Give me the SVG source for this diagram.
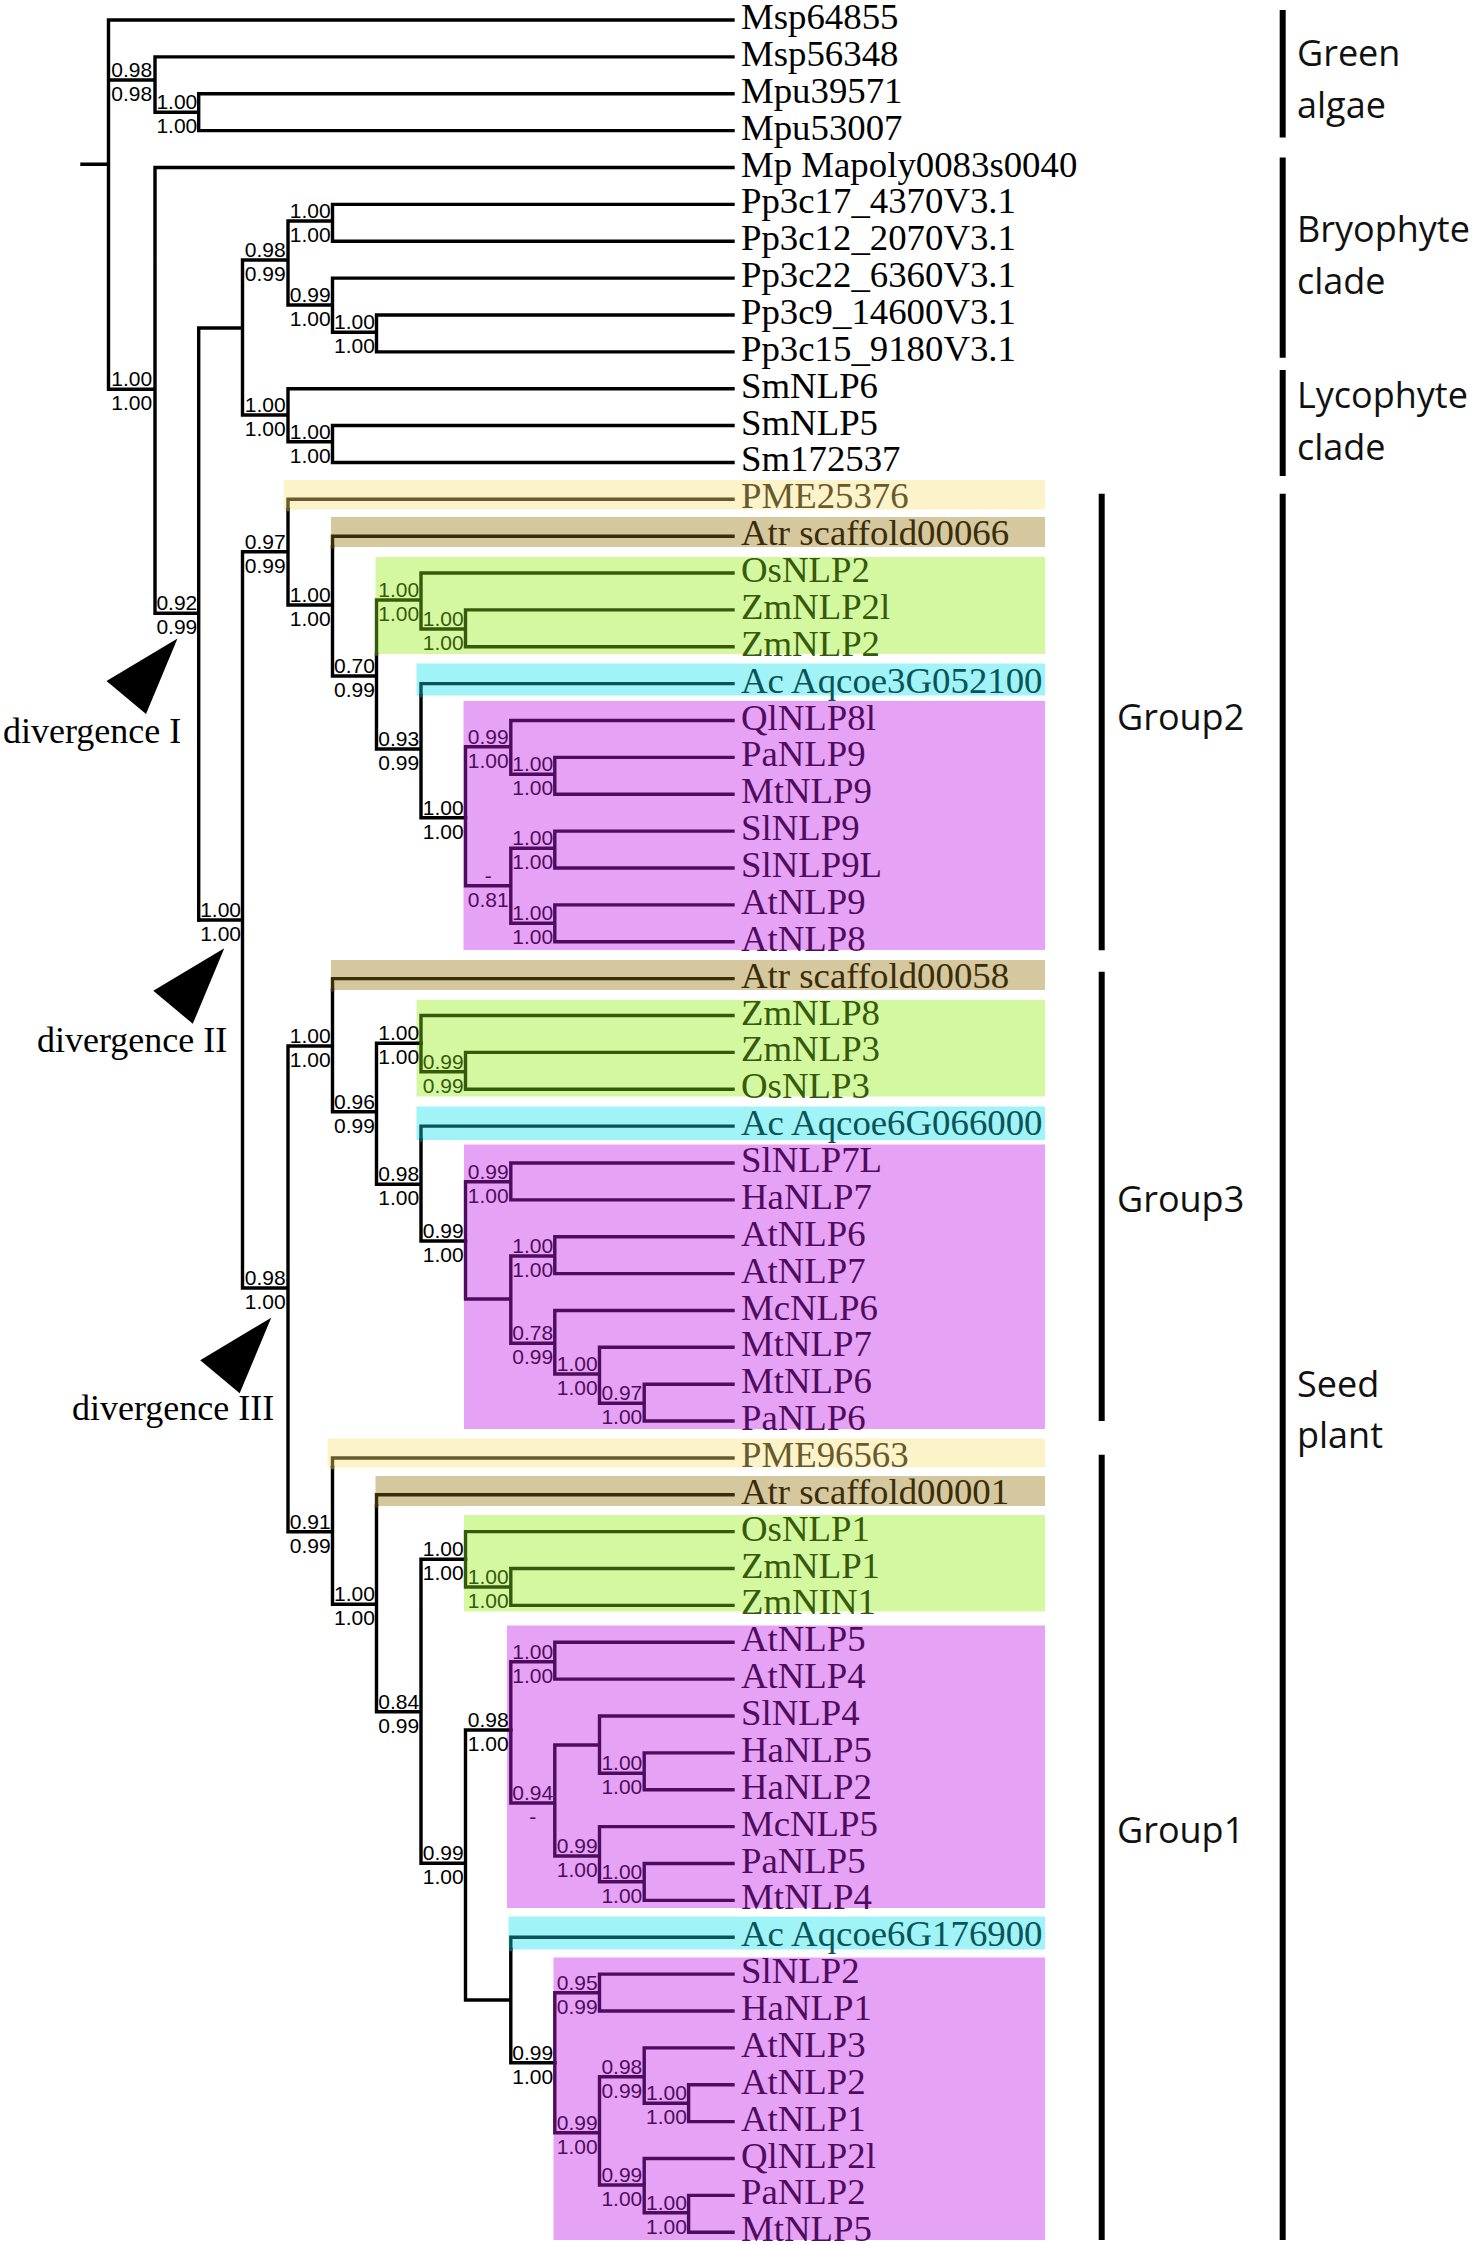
<svg xmlns="http://www.w3.org/2000/svg" width="1479" height="2245" viewBox="0 0 1479 2245">
<style>
.lf{font-family:"Liberation Serif","Times New Roman",serif;font-size:36.8px;fill:#000}
.dv{font-family:"Liberation Serif","Times New Roman",serif;font-size:36px;fill:#000}
.sp{font-family:"Liberation Sans",Arial,sans-serif;font-size:21px;text-anchor:middle;fill:#000}
.cl{font-family:"Open Sans","Liberation Sans",sans-serif;font-size:36px;fill:#111}
.f-pme{fill:#665A2E}.f-atr{fill:#3A2D08}.f-mono{fill:#375A0A}.f-ac{fill:#0A5458}.f-eud{fill:#4F0C5E}
.br{fill:none;stroke:#000;stroke-width:3.4;stroke-linecap:square}
.s-pme{stroke:#665A2E}.s-atr{stroke:#3A2D08}.s-mono{stroke:#375A0A}.s-ac{stroke:#0A5458}.s-eud{stroke:#4F0C5E}
.b-pme{fill:#FDF3C8}.b-atr{fill:#D5C79E}.b-mono{fill:#D4F8A0}.b-ac{fill:#A0F3F7}.b-eud{fill:#E6A2F5}
.bar{stroke:#000;stroke-width:6;fill:none}
.tri{fill:#000}
</style>
<rect width="1479" height="2245" fill="#fff"/>
<g id="highlights">
<rect class="b-pme" x="284" y="480" width="761" height="29.5"/>
<rect class="b-atr" x="331" y="517" width="714" height="30"/>
<rect class="b-mono" x="375.5" y="557" width="669.5" height="97"/>
<rect class="b-ac" x="416.5" y="663.5" width="628.5" height="32"/>
<rect class="b-eud" x="463.5" y="701" width="581.5" height="249"/>
<rect class="b-atr" x="331" y="960" width="714" height="30"/>
<rect class="b-mono" x="416.5" y="1000" width="628.5" height="96.5"/>
<rect class="b-ac" x="416.5" y="1106.5" width="628.5" height="33.5"/>
<rect class="b-eud" x="464" y="1144.5" width="581" height="284.5"/>
<rect class="b-pme" x="327.5" y="1438.5" width="717.5" height="29"/>
<rect class="b-atr" x="375.5" y="1476" width="669.5" height="30"/>
<rect class="b-mono" x="464" y="1515" width="581" height="96.5"/>
<rect class="b-eud" x="507" y="1625.5" width="538" height="282.5"/>
<rect class="b-ac" x="508.5" y="1916.5" width="536.5" height="33"/>
<rect class="b-eud" x="553.5" y="1957.5" width="491.5" height="282.5"/>
</g>
<g id="connectors" class="br">
<path d="M82,164.3H108.5M108.5,20V389.3M108.5,20H733M108.5,80H155M155,56.87V112.2M155,56.87H733M155,112.2H198.7M198.7,93.74V130.61M198.7,93.74H733M198.7,130.61H733M108.5,389.3H155M155,167.48V613.3M155,167.48H733M155,613.3H198.7M198.7,328V920M198.7,328H242.5M242.5,260V415M242.5,260H288M288,221V305M288,221H332.5M332.5,204.35V241.22M332.5,204.35H733M332.5,241.22H733M288,305H332.5M332.5,278.09V332.3M332.5,278.09H733M332.5,332.3H376.5M376.5,314.96V351.83M376.5,314.96H733M376.5,351.83H733M242.5,415H288M288,388.7V441.7M288,388.7H733M288,441.7H332.5M332.5,425.57V462.44M332.5,425.57H733M332.5,462.44H733"/>
<path d="M198.7,920H242.5M242.5,551.7V1288M242.5,551.7H288M288,509.5V605M288,605H332.5M332.5,547V676M332.5,676H376.5M376.5,654V749M376.5,749H421M421,695.5V817.7M421,817.7H465.5M242.5,1288H288M288,1046V1531.7M288,1046H332.5M332.5,990V1111.7M332.5,1111.7H376.5M376.5,1043.3V1184.3M376.5,1043.3H421M376.5,1184.3H421M421,1140V1241M421,1241H465.5M288,1531.7H332.5M332.5,1467.5V1604.3M332.5,1604.3H376.5M376.5,1506V1711.7M376.5,1711.7H421M421,1559.3V1863.3M421,1559.3H465.5M421,1863.3H465.5M465.5,1730V2000M465.5,1730H510.8M465.5,2000H510.8M510.8,1949.5V2062.7M510.8,2062.7H554.8"/>
<path class="s-pme" d="M288,499.31V509.5M288,499.31H733M332.5,1457.93V1467.5M332.5,1457.93H733"/>
<path class="s-atr" d="M332.5,536.18V547M332.5,536.18H733M332.5,978.62V990M332.5,978.62H733M376.5,1494.8V1506M376.5,1494.8H733"/>
<path class="s-mono" d="M376.5,600V654M376.5,600H421M421,573.05V629M421,573.05H733M421,629H465.5M465.5,609.92V646.79M465.5,609.92H733M465.5,646.79H733M421,1015.49V1071.7M421,1015.49H733M421,1071.7H465.5M465.5,1052.36V1089.23M465.5,1052.36H733M465.5,1089.23H733M465.5,1531.67V1587M465.5,1531.67H733M465.5,1587H510.8M510.8,1568.54V1605.41M510.8,1568.54H733M510.8,1605.41H733"/>
<path class="s-ac" d="M421,683.66V695.5M421,683.66H733M421,1126.1V1140M421,1126.1H733M510.8,1937.24V1949.5M510.8,1937.24H733"/>
<path class="s-eud" d="M465.5,746.7V885.7M465.5,746.7H510.8M510.8,720.53V774.3M510.8,720.53H733M510.8,774.3H554.8M554.8,757.4V794.27M554.8,757.4H733M554.8,794.27H733M465.5,885.7H510.8M510.8,848.3V923.3M510.8,848.3H554.8M554.8,831.14V868.01M554.8,831.14H733M554.8,868.01H733M510.8,923.3H554.8M554.8,904.88V941.75M554.8,904.88H733M554.8,941.75H733"/>
<path class="s-eud" d="M465.5,1181.7V1299M465.5,1181.7H510.8M510.8,1162.97V1199.84M510.8,1162.97H733M510.8,1199.84H733M465.5,1299H510.8M510.8,1256V1343.3M510.8,1256H554.8M554.8,1236.71V1273.58M554.8,1236.71H733M554.8,1273.58H733M510.8,1343.3H554.8M554.8,1310.45V1374M554.8,1310.45H733M554.8,1374H599.5M599.5,1347.32V1403.3M599.5,1347.32H733M599.5,1403.3H644.2M644.2,1384.19V1421.06M644.2,1384.19H733M644.2,1421.06H733"/>
<path class="s-eud" d="M510.8,1661.7V1803M510.8,1661.7H554.8M554.8,1642.28V1679.15M554.8,1642.28H733M554.8,1679.15H733M510.8,1803H554.8M554.8,1745V1856M554.8,1745H599.5M599.5,1716.02V1773.3M599.5,1716.02H733M599.5,1773.3H644.2M644.2,1752.89V1789.76M644.2,1752.89H733M644.2,1789.76H733M554.8,1856H599.5M599.5,1826.63V1881.7M599.5,1826.63H733M599.5,1881.7H644.2M644.2,1863.5V1900.37M644.2,1863.5H733M644.2,1900.37H733"/>
<path class="s-eud" d="M554.8,1992.7V2132.7M554.8,1992.7H599.5M599.5,1974.11V2010.98M599.5,1974.11H733M599.5,2010.98H733M554.8,2132.7H599.5M599.5,2076.7V2185M599.5,2076.7H644.2M644.2,2047.85V2103.3M644.2,2047.85H733M644.2,2103.3H688.6M688.6,2084.72V2121.59M688.6,2084.72H733M688.6,2121.59H733M599.5,2185H644.2M644.2,2158.46V2212.7M644.2,2158.46H733M644.2,2212.7H688.6M688.6,2195.33V2232.2M688.6,2195.33H733M688.6,2232.2H733"/>
</g>
<g id="leaves">
<g id="leaf-Msp64855"><text class="lf" x="741" y="29">Msp64855</text></g>
<g id="leaf-Msp56348"><text class="lf" x="741" y="65.9">Msp56348</text></g>
<g id="leaf-Mpu39571"><text class="lf" x="741" y="102.7">Mpu39571</text></g>
<g id="leaf-Mpu53007"><text class="lf" x="741" y="139.6">Mpu53007</text></g>
<g id="leaf-Mapoly"><text class="lf" x="741" y="176.5">Mp Mapoly0083s0040</text></g>
<g id="leaf-Pp3c17"><text class="lf" x="741" y="213.4">Pp3c17_4370V3.1</text></g>
<g id="leaf-Pp3c12"><text class="lf" x="741" y="250.2">Pp3c12_2070V3.1</text></g>
<g id="leaf-Pp3c22"><text class="lf" x="741" y="287.1">Pp3c22_6360V3.1</text></g>
<g id="leaf-Pp3c9"><text class="lf" x="741" y="324">Pp3c9_14600V3.1</text></g>
<g id="leaf-Pp3c15"><text class="lf" x="741" y="360.8">Pp3c15_9180V3.1</text></g>
<g id="leaf-SmNLP6"><text class="lf" x="741" y="397.7">SmNLP6</text></g>
<g id="leaf-SmNLP5"><text class="lf" x="741" y="434.6">SmNLP5</text></g>
<g id="leaf-Sm172537"><text class="lf" x="741" y="471.4">Sm172537</text></g>
<g id="leaf-PME25376"><text class="lf f-pme" x="741" y="508.3">PME25376</text></g>
<g id="leaf-Atr00066"><text class="lf f-atr" x="741" y="545.2">Atr scaffold00066</text></g>
<g id="leaf-OsNLP2"><text class="lf f-mono" x="741" y="582">OsNLP2</text></g>
<g id="leaf-ZmNLP2l"><text class="lf f-mono" x="741" y="618.9">ZmNLP2l</text></g>
<g id="leaf-ZmNLP2"><text class="lf f-mono" x="741" y="655.8">ZmNLP2</text></g>
<g id="leaf-Aqcoe3G052100"><text class="lf f-ac" x="741" y="692.7">Ac Aqcoe3G052100</text></g>
<g id="leaf-QlNLP8l"><text class="lf f-eud" x="741" y="729.5">QlNLP8l</text></g>
<g id="leaf-PaNLP9"><text class="lf f-eud" x="741" y="766.4">PaNLP9</text></g>
<g id="leaf-MtNLP9"><text class="lf f-eud" x="741" y="803.3">MtNLP9</text></g>
<g id="leaf-SlNLP9"><text class="lf f-eud" x="741" y="840.1">SlNLP9</text></g>
<g id="leaf-SlNLP9L"><text class="lf f-eud" x="741" y="877">SlNLP9L</text></g>
<g id="leaf-AtNLP9"><text class="lf f-eud" x="741" y="913.9">AtNLP9</text></g>
<g id="leaf-AtNLP8"><text class="lf f-eud" x="741" y="950.8">AtNLP8</text></g>
<g id="leaf-Atr00058"><text class="lf f-atr" x="741" y="987.6">Atr scaffold00058</text></g>
<g id="leaf-ZmNLP8"><text class="lf f-mono" x="741" y="1024.5">ZmNLP8</text></g>
<g id="leaf-ZmNLP3"><text class="lf f-mono" x="741" y="1061.4">ZmNLP3</text></g>
<g id="leaf-OsNLP3"><text class="lf f-mono" x="741" y="1098.2">OsNLP3</text></g>
<g id="leaf-Aqcoe6G066000"><text class="lf f-ac" x="741" y="1135.1">Ac Aqcoe6G066000</text></g>
<g id="leaf-SlNLP7L"><text class="lf f-eud" x="741" y="1172">SlNLP7L</text></g>
<g id="leaf-HaNLP7"><text class="lf f-eud" x="741" y="1208.8">HaNLP7</text></g>
<g id="leaf-AtNLP6"><text class="lf f-eud" x="741" y="1245.7">AtNLP6</text></g>
<g id="leaf-AtNLP7"><text class="lf f-eud" x="741" y="1282.6">AtNLP7</text></g>
<g id="leaf-McNLP6"><text class="lf f-eud" x="741" y="1319.5">McNLP6</text></g>
<g id="leaf-MtNLP7"><text class="lf f-eud" x="741" y="1356.3">MtNLP7</text></g>
<g id="leaf-MtNLP6"><text class="lf f-eud" x="741" y="1393.2">MtNLP6</text></g>
<g id="leaf-PaNLP6"><text class="lf f-eud" x="741" y="1430.1">PaNLP6</text></g>
<g id="leaf-PME96563"><text class="lf f-pme" x="741" y="1466.9">PME96563</text></g>
<g id="leaf-Atr00001"><text class="lf f-atr" x="741" y="1503.8">Atr scaffold00001</text></g>
<g id="leaf-OsNLP1"><text class="lf f-mono" x="741" y="1540.7">OsNLP1</text></g>
<g id="leaf-ZmNLP1"><text class="lf f-mono" x="741" y="1577.5">ZmNLP1</text></g>
<g id="leaf-ZmNIN1"><text class="lf f-mono" x="741" y="1614.4">ZmNIN1</text></g>
<g id="leaf-AtNLP5"><text class="lf f-eud" x="741" y="1651.3">AtNLP5</text></g>
<g id="leaf-AtNLP4"><text class="lf f-eud" x="741" y="1688.2">AtNLP4</text></g>
<g id="leaf-SlNLP4"><text class="lf f-eud" x="741" y="1725">SlNLP4</text></g>
<g id="leaf-HaNLP5"><text class="lf f-eud" x="741" y="1761.9">HaNLP5</text></g>
<g id="leaf-HaNLP2"><text class="lf f-eud" x="741" y="1798.8">HaNLP2</text></g>
<g id="leaf-McNLP5"><text class="lf f-eud" x="741" y="1835.6">McNLP5</text></g>
<g id="leaf-PaNLP5"><text class="lf f-eud" x="741" y="1872.5">PaNLP5</text></g>
<g id="leaf-MtNLP4"><text class="lf f-eud" x="741" y="1909.4">MtNLP4</text></g>
<g id="leaf-Aqcoe6G176900"><text class="lf f-ac" x="741" y="1946.2">Ac Aqcoe6G176900</text></g>
<g id="leaf-SlNLP2"><text class="lf f-eud" x="741" y="1983.1">SlNLP2</text></g>
<g id="leaf-HaNLP1"><text class="lf f-eud" x="741" y="2020">HaNLP1</text></g>
<g id="leaf-AtNLP3"><text class="lf f-eud" x="741" y="2056.9">AtNLP3</text></g>
<g id="leaf-AtNLP2"><text class="lf f-eud" x="741" y="2093.7">AtNLP2</text></g>
<g id="leaf-AtNLP1"><text class="lf f-eud" x="741" y="2130.6">AtNLP1</text></g>
<g id="leaf-QlNLP2l"><text class="lf f-eud" x="741" y="2167.5">QlNLP2l</text></g>
<g id="leaf-PaNLP2"><text class="lf f-eud" x="741" y="2204.3">PaNLP2</text></g>
<g id="leaf-MtNLP5"><text class="lf f-eud" x="741" y="2241.2">MtNLP5</text></g>
</g>
<g id="supports">
<g id="node-GA1"><text class="sp" x="131.75" y="77">0.98</text><text class="sp" x="131.75" y="101">0.98</text></g>
<g id="node-GA2"><text class="sp" x="176.85" y="109.2">1.00</text><text class="sp" x="176.85" y="133.2">1.00</text></g>
<g id="node-LP"><text class="sp" x="131.75" y="386.3">1.00</text><text class="sp" x="131.75" y="410.3">1.00</text></g>
<g id="node-A"><text class="sp" x="176.85" y="610.3">0.92</text><text class="sp" x="176.85" y="634.3">0.99</text></g>
<g id="node-D"><text class="sp" x="265.25" y="257">0.98</text><text class="sp" x="265.25" y="281">0.99</text></g>
<g id="node-F"><text class="sp" x="310.25" y="218">1.00</text><text class="sp" x="310.25" y="242">1.00</text></g>
<g id="node-G"><text class="sp" x="310.25" y="302">0.99</text><text class="sp" x="310.25" y="326">1.00</text></g>
<g id="node-H"><text class="sp" x="354.5" y="329.3">1.00</text><text class="sp" x="354.5" y="353.3">1.00</text></g>
<g id="node-E"><text class="sp" x="265.25" y="412">1.00</text><text class="sp" x="265.25" y="436">1.00</text></g>
<g id="node-I"><text class="sp" x="310.25" y="438.7">1.00</text><text class="sp" x="310.25" y="462.7">1.00</text></g>
<g id="node-C"><text class="sp" x="220.6" y="917">1.00</text><text class="sp" x="220.6" y="941">1.00</text></g>
<g id="node-J"><text class="sp" x="265.25" y="548.7">0.97</text><text class="sp" x="265.25" y="572.7">0.99</text></g>
<g id="node-L"><text class="sp" x="310.25" y="602">1.00</text><text class="sp" x="310.25" y="626">1.00</text></g>
<g id="node-M"><text class="sp" x="354.5" y="673">0.70</text><text class="sp" x="354.5" y="697">0.99</text></g>
<g id="node-N"><text class="sp f-mono" x="398.75" y="597">1.00</text><text class="sp f-mono" x="398.75" y="621">1.00</text></g>
<g id="node-P"><text class="sp f-mono" x="443.25" y="626">1.00</text><text class="sp f-mono" x="443.25" y="650">1.00</text></g>
<g id="node-O"><text class="sp" x="398.75" y="746">0.93</text><text class="sp" x="398.75" y="770">0.99</text></g>
<g id="node-Q"><text class="sp" x="443.25" y="814.7">1.00</text><text class="sp" x="443.25" y="838.7">1.00</text></g>
<g id="node-R"><text class="sp f-eud" x="488.15" y="743.7">0.99</text><text class="sp f-eud" x="488.15" y="767.7">1.00</text></g>
<g id="node-T"><text class="sp f-eud" x="532.8" y="771.3">1.00</text><text class="sp f-eud" x="532.8" y="795.3">1.00</text></g>
<g id="node-S"><text class="sp f-eud" x="488.15" y="882.7">-</text><text class="sp f-eud" x="488.15" y="906.7">0.81</text></g>
<g id="node-U"><text class="sp f-eud" x="532.8" y="845.3">1.00</text><text class="sp f-eud" x="532.8" y="869.3">1.00</text></g>
<g id="node-V"><text class="sp f-eud" x="532.8" y="920.3">1.00</text><text class="sp f-eud" x="532.8" y="944.3">1.00</text></g>
<g id="node-K"><text class="sp" x="265.25" y="1285">0.98</text><text class="sp" x="265.25" y="1309">1.00</text></g>
<g id="node-W"><text class="sp" x="310.25" y="1043">1.00</text><text class="sp" x="310.25" y="1067">1.00</text></g>
<g id="node-Y"><text class="sp" x="354.5" y="1108.7">0.96</text><text class="sp" x="354.5" y="1132.7">0.99</text></g>
<g id="node-Z"><text class="sp" x="398.75" y="1040.3">1.00</text><text class="sp" x="398.75" y="1064.3">1.00</text></g>
<g id="node-AB"><text class="sp f-mono" x="443.25" y="1068.7">0.99</text><text class="sp f-mono" x="443.25" y="1092.7">0.99</text></g>
<g id="node-AA"><text class="sp" x="398.75" y="1181.3">0.98</text><text class="sp" x="398.75" y="1205.3">1.00</text></g>
<g id="node-AC"><text class="sp" x="443.25" y="1238">0.99</text><text class="sp" x="443.25" y="1262">1.00</text></g>
<g id="node-AD"><text class="sp f-eud" x="488.15" y="1178.7">0.99</text><text class="sp f-eud" x="488.15" y="1202.7">1.00</text></g>
<g id="node-AF"><text class="sp f-eud" x="532.8" y="1253">1.00</text><text class="sp f-eud" x="532.8" y="1277">1.00</text></g>
<g id="node-AG"><text class="sp f-eud" x="532.8" y="1340.3">0.78</text><text class="sp f-eud" x="532.8" y="1364.3">0.99</text></g>
<g id="node-AH"><text class="sp f-eud" x="577.15" y="1371">1.00</text><text class="sp f-eud" x="577.15" y="1395">1.00</text></g>
<g id="node-AI"><text class="sp f-eud" x="621.85" y="1400.3">0.97</text><text class="sp f-eud" x="621.85" y="1424.3">1.00</text></g>
<g id="node-X"><text class="sp" x="310.25" y="1528.7">0.91</text><text class="sp" x="310.25" y="1552.7">0.99</text></g>
<g id="node-AJ"><text class="sp" x="354.5" y="1601.3">1.00</text><text class="sp" x="354.5" y="1625.3">1.00</text></g>
<g id="node-AK"><text class="sp" x="398.75" y="1708.7">0.84</text><text class="sp" x="398.75" y="1732.7">0.99</text></g>
<g id="node-AL"><text class="sp" x="443.25" y="1556.3">1.00</text><text class="sp" x="443.25" y="1580.3">1.00</text></g>
<g id="node-AN"><text class="sp f-mono" x="488.15" y="1584">1.00</text><text class="sp f-mono" x="488.15" y="1608">1.00</text></g>
<g id="node-AM"><text class="sp" x="443.25" y="1860.3">0.99</text><text class="sp" x="443.25" y="1884.3">1.00</text></g>
<g id="node-AO"><text class="sp" x="488.15" y="1727">0.98</text><text class="sp" x="488.15" y="1751">1.00</text></g>
<g id="node-AQ"><text class="sp f-eud" x="532.8" y="1658.7">1.00</text><text class="sp f-eud" x="532.8" y="1682.7">1.00</text></g>
<g id="node-AR"><text class="sp f-eud" x="532.8" y="1800">0.94</text><text class="sp f-eud" x="532.8" y="1824">-</text></g>
<g id="node-AU"><text class="sp f-eud" x="621.85" y="1770.3">1.00</text><text class="sp f-eud" x="621.85" y="1794.3">1.00</text></g>
<g id="node-AT"><text class="sp f-eud" x="577.15" y="1853">0.99</text><text class="sp f-eud" x="577.15" y="1877">1.00</text></g>
<g id="node-AV"><text class="sp f-eud" x="621.85" y="1878.7">1.00</text><text class="sp f-eud" x="621.85" y="1902.7">1.00</text></g>
<g id="node-AW"><text class="sp" x="532.8" y="2059.7">0.99</text><text class="sp" x="532.8" y="2083.7">1.00</text></g>
<g id="node-AX"><text class="sp f-eud" x="577.15" y="1989.7">0.95</text><text class="sp f-eud" x="577.15" y="2013.7">0.99</text></g>
<g id="node-AY"><text class="sp f-eud" x="577.15" y="2129.7">0.99</text><text class="sp f-eud" x="577.15" y="2153.7">1.00</text></g>
<g id="node-AZ"><text class="sp f-eud" x="621.85" y="2073.7">0.98</text><text class="sp f-eud" x="621.85" y="2097.7">0.99</text></g>
<g id="node-BB"><text class="sp f-eud" x="666.4" y="2100.3">1.00</text><text class="sp f-eud" x="666.4" y="2124.3">1.00</text></g>
<g id="node-BA"><text class="sp f-eud" x="621.85" y="2182">0.99</text><text class="sp f-eud" x="621.85" y="2206">1.00</text></g>
<g id="node-BC"><text class="sp f-eud" x="666.4" y="2209.7">1.00</text><text class="sp f-eud" x="666.4" y="2233.7">1.00</text></g>
</g>
<g id="divergence-I"><polygon class="tri" points="177.5,638.5 106.5,681 146,714"/><text class="dv" x="3" y="743.3">divergence I</text></g>
<g id="divergence-II"><polygon class="tri" points="224.3,948.3 153.3,990.8 192.8,1023.8"/><text class="dv" x="37" y="1051.7">divergence II</text></g>
<g id="divergence-III"><polygon class="tri" points="271.2,1317.7 200.2,1360.2 239.7,1393.2"/><text class="dv" x="72" y="1420">divergence III</text></g>
<g id="clade-green-algae"><path class="bar" d="M1282.7,10V137.5"/><text class="cl" x="1297" y="66">Green</text><text class="cl" x="1297" y="118">algae</text></g>
<g id="clade-bryophyte"><path class="bar" d="M1282.7,157.5V357.8"/><text class="cl" x="1297" y="242">Bryophyte</text><text class="cl" x="1297" y="293.5">clade</text></g>
<g id="clade-lycophyte"><path class="bar" d="M1282.7,370V476"/><text class="cl" x="1297" y="408">Lycophyte</text><text class="cl" x="1297" y="460">clade</text></g>
<g id="clade-seed-plant"><path class="bar" d="M1282.7,493.7V2240"/><text class="cl" x="1297" y="1397">Seed</text><text class="cl" x="1297" y="1448">plant</text></g>
<g id="group2"><path class="bar" d="M1101.7,493.7V950.3"/><text class="cl" x="1117" y="730">Group2</text></g>
<g id="group3"><path class="bar" d="M1101.7,971.7V1421"/><text class="cl" x="1117" y="1211.5">Group3</text></g>
<g id="group1"><path class="bar" d="M1101.7,1454.8V2240"/><text class="cl" x="1117" y="1843">Group1</text></g>
</svg>
